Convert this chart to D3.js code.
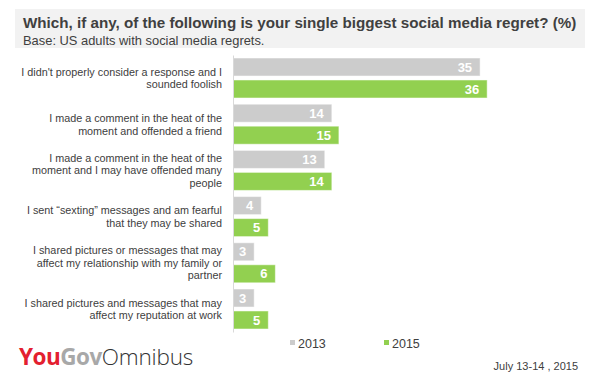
<!DOCTYPE html>
<html>
<head>
<meta charset="utf-8">
<script src="https://cdn.jsdelivr.net/npm/d3@7"></script>
<style>
  html, body { margin: 0; padding: 0; background: #fff; }
  svg { display: block; font-family: "Liberation Sans", Arial, sans-serif; }
</style>
</head>
<body>
<svg id="chart" width="606" height="386"></svg>
<script>
const categories = [
  ["I didn't properly consider a response and I", "sounded foolish"],
  ["I made a comment in the heat of the", "moment and offended a friend"],
  ["I made a comment in the heat of the", "moment and I may have offended many", "people"],
  ["I sent \u201csexting\u201d messages and am fearful", "that they may be shared"],
  ["I shared pictures or messages that may", "affect my relationship with my family or", "partner"],
  ["I shared pictures and messages that may", "affect my reputation at work"]
];
const seriesNames = ["2013", "2015"];
const values2013 = [35, 14, 13, 4, 3, 3];
const values2015 = [36, 15, 14, 5, 6, 5];
const colors = ["#cccccc", "#92d050"];
const titleText = "Which, if any, of the following is your single biggest social media regret? (%)";
const subtitleText = "Base: US adults with social media regrets.";
const dateText = "July 13-14 , 2015";

const svg = d3.select("#chart");
const ids = categories.map((c, i) => "c" + i);
const seriesVals = [values2013, values2015];

// Title band
svg.append("rect").attr("x", 15).attr("y", 9).attr("width", 570).attr("height", 39).attr("fill", "#f2f2f2");
svg.append("text").attr("x", 23).attr("y", 28).attr("font-size", 15.2).attr("font-weight", "bold")
  .attr("fill", "#404040").text(titleText);
svg.append("text").attr("x", 23).attr("y", 45).attr("font-size", 12.9)
  .attr("fill", "#404040").text(subtitleText);

const x = d3.scaleLinear().domain([0, 40]).range([233, 233 + 7.06 * 40]);
const y = d3.scaleBand().domain(ids).range([55, 332]).paddingInner(0.134).paddingOuter(0.065);
const ySub = d3.scaleBand().domain(seriesNames).range([0, y.bandwidth()]).paddingInner(0.18);

const groups = svg.append("g").selectAll("g").data(ids).join("g")
  .attr("transform", d => `translate(0,${y(d)})`);

seriesNames.forEach((s, si) => {
  groups.append("rect")
    .attr("x", x(0))
    .attr("y", ySub(s))
    .attr("width", (d, i) => x(seriesVals[si][i]) - x(0))
    .attr("height", ySub.bandwidth())
    .attr("fill", colors[si])
    .attr("stroke", "#ffffff").attr("stroke-opacity", 0.5).attr("stroke-width", 1);
  groups.append("text")
    .attr("x", (d, i) => x(seriesVals[si][i]) - 8)
    .attr("y", ySub(s) + ySub.bandwidth() / 2 + 4.7)
    .attr("text-anchor", "end")
    .attr("font-size", 13).attr("font-weight", "bold").attr("fill", "#ffffff")
    .text((d, i) => seriesVals[si][i]);
});

// Category labels
groups.each(function(d, i) {
  const lines = categories[i];
  const cy = y.bandwidth() / 2;
  const lh = 12.7;
  const t = d3.select(this).append("text")
    .attr("text-anchor", "end").attr("font-size", 10.8).attr("fill", "#404040");
  lines.forEach((ln, li) => {
    t.append("tspan").attr("x", 222)
      .attr("y", cy + 4 + (li - (lines.length - 1) / 2) * lh)
      .text(ln);
  });
});

// Axis line
const yAxis = d3.axisLeft(y).tickSize(0).tickFormat("");
const ag = svg.append("g").attr("transform", `translate(${x(0)},0)`).call(yAxis);
ag.select(".domain").attr("stroke", "#d9d9d9").attr("stroke-width", 1);

// Legend
const legendX = [290, 384];
seriesNames.forEach((s, si) => {
  svg.append("rect").attr("x", legendX[si]).attr("y", 340).attr("width", 5).attr("height", 5).attr("fill", colors[si]);
  svg.append("text").attr("x", legendX[si] + 8).attr("y", 347.5).attr("font-size", 12.5)
    .attr("fill", "#404040").text(s);
});

// Logo
const logo = svg.append("text").attr("x", 19).attr("y", 365).attr("font-size", 22.5)
  .attr("font-family", "'Open Sans', 'Liberation Sans', sans-serif").attr("letter-spacing", -0.5);
logo.append("tspan").attr("font-weight", "bold").attr("fill", "#e3202f").text("You");
logo.append("tspan").attr("font-weight", "bold").attr("fill", "#a8a8a8").text("Gov");
logo.append("tspan").attr("font-weight", 300).attr("fill", "#333333").attr("letter-spacing", -0.2).text("Omnibus");

// Date
svg.append("text").attr("x", 578).attr("y", 370).attr("text-anchor", "end").attr("font-size", 11)
  .attr("fill", "#404040").text(dateText);
</script>
</body>
</html>
